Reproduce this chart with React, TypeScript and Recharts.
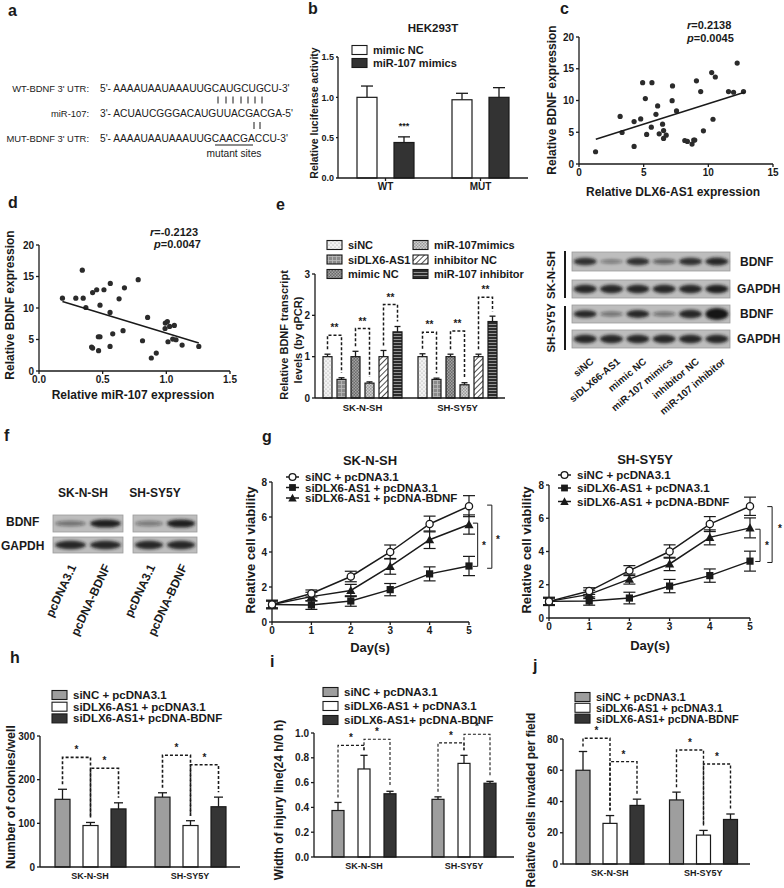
import React from 'react';
import { BarChart, Bar, XAxis, YAxis, ScatterChart, Scatter, LineChart, Line, ErrorBar, ReferenceLine } from 'recharts';

const FONT = 'Arial, "Liberation Sans", Helvetica, sans-serif';
const INK = '#1a1a1a';

// ---------- Panel a ----------
const aLabels = ["WT-BDNF 3' UTR:", 'miR-107:', "MUT-BDNF 3' UTR:"];
const aSeqs = ["5'- AAAAUAAUAAAUUGCAUGCUGCU-3'", "3'- ACUAUCGGGACAUGUUACGACGA-5'", "5'- AAAAUAAUAAAUUGCAACGACCU-3'"];

// ---------- Panel b ----------
const bCategories = ['WT', 'MUT'];
const bMimicNC = [1.0, 0.97];
const bMimicNCErr = [0.14, 0.08];
const bMimics = [0.44, 1.0];
const bMimicsErr = [0.07, 0.12];
const bMarks = ['***', ''];
const bTicks = [0, 0.5, 1.0, 1.5];

// ---------- Panel c ----------
const cX = [1.28, 3.18, 3.33, 4.26, 4.26, 4.77, 4.92, 5.13, 5.23, 5.64, 5.59, 5.95, 6.08, 6.2, 6.46, 6.54, 6.54, 6.74, 7.2, 7.23, 7.54, 8.18, 8.38, 8.74, 8.87, 8.95, 9.08, 9.41, 9.62, 10.26, 10.36, 10.54, 11.56, 11.95, 12.23, 12.72];
const cY = [1.93, 7.5, 4.96, 6.68, 2.77, 7.1, 12.8, 10.3, 4.65, 12.8, 5.8, 7.83, 9.14, 4.75, 6.27, 5.27, 4.02, 4.54, 9.97, 12.3, 8.36, 3.7, 3.55, 3.13, 3.76, 3.76, 13.1, 11.4, 5.22, 14.4, 7.05, 13.7, 11.4, 11.3, 15.9, 11.4];
const cFitX = [1.3, 12.8];
const cFitY = [3.9, 11.3];

// ---------- Panel d ----------
const dX = [0.184, 0.289, 0.34, 0.347, 0.368, 0.413, 0.421, 0.421, 0.453, 0.466, 0.479, 0.468, 0.479, 0.51, 0.558, 0.558, 0.56, 0.579, 0.629, 0.66, 0.671, 0.779, 0.813, 0.853, 0.882, 0.921, 0.99, 0.992, 1.008, 1.013, 1.026, 1.05, 1.063, 1.076, 1.124, 1.255];
const dY = [11.56, 11.56, 16.0, 11.56, 10.08, 3.8, 3.64, 12.45, 12.9, 5.44, 5.44, 3.22, 10.45, 12.9, 3.9, 9.29, 13.9, 5.9, 11.45, 6.4, 13.2, 14.5, 4.8, 8.5, 2.06, 2.85, 6.75, 7.6, 7.86, 4.64, 7.07, 5.07, 7.23, 4.96, 4.12, 3.9];
const dFitX = [0.184, 1.255];
const dFitY = [11.03, 4.43];

// ---------- Panel e ----------
const eCategories = ['SK-N-SH', 'SH-SY5Y'];
const eNames = ['siNC', 'siDLX6-AS1', 'mimic NC', 'miR-107mimics', 'inhibitor NC', 'miR-107 inhibitor'];
const eSiNC = [1.0, 1.0];
const eSiNCErr = [0.06, 0.07];
const eSiDLX = [0.45, 0.45];
const eSiDLXErr = [0.04, 0.03];
const eMimicNC = [1.0, 1.0];
const eMimicNCErr = [0.13, 0.06];
const eMimics = [0.36, 0.32];
const eMimicsErr = [0.03, 0.05];
const eInhNC = [1.0, 1.0];
const eInhNCErr = [0.15, 0.06];
const eInh = [1.6, 1.85];
const eInhErr = [0.13, 0.13];
const eBracket1 = [1.52, 1.59];
const eBracket2 = [1.68, 1.62];
const eBracket3 = [2.26, 2.44];
const eTicks = [0, 1, 2, 3];
const eLanes = ['siNC', 'siDLX66-AS1', 'mimic NC', 'miR-107 mimics', 'inhibitor NC', 'miR-107 inhibitor'];
const eBdnfSK = [0.85, 0.4, 0.85, 0.55, 0.85, 0.9];
const eBdnfSKThick = [1, 0.6, 1, 0.7, 1, 1.05];
const eGapdhSK = [0.9, 0.9, 0.9, 0.9, 0.9, 0.95];
const eBdnfSH = [0.9, 0.45, 0.9, 0.45, 0.9, 1.0];
const eBdnfSHThick = [1.05, 0.7, 1.1, 0.7, 1.2, 1.7];
const eGapdhSH = [0.9, 0.9, 0.9, 0.9, 0.9, 0.9];

// ---------- Panel f ----------
const fCells = ['SK-N-SH', 'SH-SY5Y'];
const fLanes = ['pcDNA3.1', 'pcDNA-BDNF'];
const fBdnfSK = [0.45, 0.95];
const fBdnfSH = [0.4, 0.95];
const fGapdh = [0.9, 0.9];

// ---------- Panel g ----------
const gDays = [0, 1, 2, 3, 4, 5];
const gSeries = ['siNC + pcDNA3.1', 'siDLX6-AS1 + pcDNA3.1', 'siDLX6-AS1 + pcDNA-BDNF'];
const gSKnc = [1.0, 1.63, 2.6, 4.0, 5.6, 6.62];
const gSKncErr = [0.2, 0.2, 0.3, 0.4, 0.45, 0.6];
const gSKsi = [1.0, 0.97, 1.2, 1.85, 2.75, 3.2];
const gSKsiErr = [0.25, 0.25, 0.3, 0.35, 0.4, 0.55];
const gSKbd = [1.0, 1.45, 1.8, 3.18, 4.7, 5.57];
const gSKbdErr = [0.2, 0.25, 0.35, 0.45, 0.5, 0.55];
const gSHnc = [1.0, 1.62, 2.85, 4.0, 5.65, 6.72];
const gSHncErr = [0.2, 0.2, 0.3, 0.4, 0.45, 0.55];
const gSHsi = [1.0, 1.02, 1.2, 1.92, 2.55, 3.42];
const gSHsiErr = [0.25, 0.25, 0.35, 0.4, 0.4, 0.6];
const gSHbd = [1.0, 1.42, 2.34, 3.25, 4.85, 5.42];
const gSHbdErr = [0.2, 0.25, 0.3, 0.4, 0.45, 0.6];
const gTicksY = [0, 2, 4, 6, 8];

// ---------- Panels h, i, j ----------
const hijCategories = ['SK-N-SH', 'SH-SY5Y'];
const hijSeries = ['siNC + pcDNA3.1', 'siDLX6-AS1 + pcDNA3.1', 'siDLX6-AS1+ pcDNA-BDNF'];
const hNC = [155, 160];
const hNCErr = [23, 10];
const hSi = [95, 95];
const hSiErr = [7, 11];
const hBd = [133, 138];
const hBdErr = [14, 22];
const hBr1 = [251, 256];
const hBr2 = [226, 234];
const hTicks = [0, 100, 200, 300];

const iNC = [0.375, 0.465];
const iNCErr = [0.065, 0.02];
const iSi = [0.71, 0.755];
const iSiErr = [0.11, 0.065];
const iBd = [0.51, 0.595];
const iBdErr = [0.02, 0.015];
const iBr1 = [0.9, 0.92];
const iBr2 = [0.95, 0.99];
const iTicks = [0, 0.2, 0.4, 0.6, 0.8, 1.0];

const jNC = [60, 41];
const jNCErr = [12, 5];
const jSi = [26, 18.5];
const jSiErr = [5, 3];
const jBd = [37.5, 28.5];
const jBdErr = [4, 3.5];
const jBr1 = [80.5, 73];
const jBr2 = [65.5, 64];
const jTicks = [0, 20, 40, 60, 80];

// ---------- built tables ----------
const bData = bCategories.map((name, i) => ({ name, nc: bMimicNC[i], ncE: bMimicNCErr[i], mi: bMimics[i], miE: bMimicsErr[i], mark: bMarks[i] }));
const cPts = cX.map((x, i) => ({ x, y: cY[i] }));
const cLine = cFitX.map((x, i) => ({ x, y: cFitY[i] }));
const dPts = dX.map((x, i) => ({ x, y: dY[i] }));
const dLine = dFitX.map((x, i) => ({ x, y: dFitY[i] }));
const eData = eCategories.map((name, i) => ({
  name,
  s1: eSiNC[i], s1E: eSiNCErr[i], s2: eSiDLX[i], s2E: eSiDLXErr[i],
  s3: eMimicNC[i], s3E: eMimicNCErr[i], s4: eMimics[i], s4E: eMimicsErr[i],
  s5: eInhNC[i], s5E: eInhNCErr[i], s6: eInh[i], s6E: eInhErr[i],
  br1: eBracket1[i], br2: eBracket2[i], br3: eBracket3[i],
}));
const gSK = gDays.map((day, i) => ({ day, nc: gSKnc[i], ncE: gSKncErr[i], si: gSKsi[i], siE: gSKsiErr[i], bd: gSKbd[i], bdE: gSKbdErr[i] }));
const gSH = gDays.map((day, i) => ({ day, nc: gSHnc[i], ncE: gSHncErr[i], si: gSHsi[i], siE: gSHsiErr[i], bd: gSHbd[i], bdE: gSHbdErr[i] }));
const mk3 = (a: number[], ae: number[], b: number[], be: number[], c: number[], ce: number[], r1: number[], r2: number[]) =>
  hijCategories.map((name, i) => ({ name, a: a[i], aE: ae[i], b: b[i], bE: be[i], c: c[i], cE: ce[i], br1: r1[i], br2: r2[i] }));
const hData = mk3(hNC, hNCErr, hSi, hSiErr, hBd, hBdErr, hBr1, hBr2);
const iData = mk3(iNC, iNCErr, iSi, iSiErr, iBd, iBdErr, iBr1, iBr2);
const jData = mk3(jNC, jNCErr, jSi, jSiErr, jBd, jBdErr, jBr1, jBr2);

// ---------- helpers ----------
const tickStyle = { fontSize: 10, fontWeight: 700, fill: INK, fontFamily: FONT };
const axisLine = { stroke: INK, strokeWidth: 1.3 };

type ShapeSpec = { v: string; e: string; fill: string; pv?: string; pe?: string; br?: string; star?: string; pitch?: number; mark?: string; sw?: number; dash?: string };

function barShape(s: ShapeSpec) {
  return (props: any) => {
    const { x, y, width, height, payload } = props;
    const v = payload[s.v];
    if (!v || !height) return <g />;
    const k = height / v;
    const base = y + height;
    const py = (val: number) => base - val * k;
    const cx = x + width / 2;
    const top = py(v + payload[s.e]);
    const cap = Math.max(3, width * 0.3);
    const parts: any[] = [
      <line key="e" x1={cx} y1={y} x2={cx} y2={top} stroke={INK} strokeWidth={1.3} />,
      <line key="c" x1={cx - cap} y1={top} x2={cx + cap} y2={top} stroke={INK} strokeWidth={1.3} />,
      <rect key="r" x={x} y={y} width={width} height={height} fill={s.fill} stroke={INK} strokeWidth={1.2} />,
    ];
    if (s.br && s.pv && s.pe && s.pitch) {
      const lvl = py(payload[s.br]);
      const px = cx + s.pitch;
      const pTop = py(payload[s.pv] + payload[s.pe]) - 5;
      parts.push(
        <path key="b" d={`M${cx},${top - 5}V${lvl}H${px}V${pTop}`} fill="none" stroke={INK} strokeWidth={s.sw || 1.4} strokeDasharray={s.dash || '3 2'} />
      );
      parts.push(
        <text key="s" x={(cx + px) / 2} y={lvl - 4} textAnchor="middle" fontSize={10} fontWeight={700} fontFamily={FONT} fill={INK}>{s.star}</text>
      );
    }
    if (s.mark && payload[s.mark]) {
      parts.push(
        <text key="m" x={cx} y={top - 8} textAnchor="middle" fontSize={9} fontWeight={700} fontFamily={FONT} fill={INK}>{payload[s.mark]}</text>
      );
    }
    return <g>{parts}</g>;
  };
}

const scatterDot = (p: any) => <circle cx={p.cx} cy={p.cy} r={2.6} fill="#2b2b2b" />;
const noDot = () => <g />;
const circleDot = (p: any) => <circle key={`c${p.index}`} cx={p.cx} cy={p.cy} r={3.6} fill="#fff" stroke={INK} strokeWidth={1.3} />;
const squareDot = (p: any) => <rect key={`s${p.index}`} x={p.cx - 3.6} y={p.cy - 3.6} width={7.2} height={7.2} fill={INK} />;
const triDot = (p: any) => <path key={`t${p.index}`} d={`M${p.cx},${p.cy - 4.6}L${p.cx + 4.6},${p.cy + 3.6}L${p.cx - 4.6},${p.cy + 3.6}Z`} fill={INK} />;

function Txt({ x, y, children, size = 11, weight = 700, anchor = 'start', rotate = 0, italic = false }: any) {
  return (
    <text x={0} y={0} transform={`translate(${x},${y}) rotate(${rotate})`} fontSize={size} fontWeight={weight}
      textAnchor={anchor} dominantBaseline="central" fontFamily={FONT} fill={INK} fontStyle={italic ? 'italic' : 'normal'}>
      {children}
    </text>
  );
}

function Blot({ x, y, w, h, bands, thick }: any) {
  const lw = w / bands.length;
  return (
    <g>
      <rect x={x} y={y} width={w} height={h} fill="#bdbdbd" stroke="#9c9c9c" strokeWidth={0.8} />
      <g filter="url(#blotBlur)">
        {bands.map((b: number, i: number) => (
          <ellipse key={i} cx={x + lw * (i + 0.5)} cy={y + h / 2} rx={lw * 0.44} ry={h * 0.2 * (thick ? thick[i] : 1.15)} fill="#141414" opacity={b} />
        ))}
      </g>
    </g>
  );
}

function SwatchLegend({ x, y0, dy, names, fills, size = 11 }: any) {
  return (
    <g>
      {names.map((n: string, i: number) => (
        <g key={n}>
          <rect x={x} y={y0 + i * dy - 4.5} width={15} height={9} fill={fills[i]} stroke={INK} strokeWidth={1.1} />
          <Txt x={x + 21} y={y0 + i * dy} size={size}>{n}</Txt>
        </g>
      ))}
    </g>
  );
}

function LineLegend({ x, ys, names }: any) {
  const marks = [
    (cx: number, cy: number) => <circle cx={cx} cy={cy} r={3.4} fill="#fff" stroke={INK} strokeWidth={1.3} />,
    (cx: number, cy: number) => <rect x={cx - 3.4} y={cy - 3.4} width={6.8} height={6.8} fill={INK} />,
    (cx: number, cy: number) => <path d={`M${cx},${cy - 4.2}L${cx + 4.2},${cy + 3.4}L${cx - 4.2},${cy + 3.4}Z`} fill={INK} />,
  ];
  return (
    <g>
      {names.map((n: string, i: number) => (
        <g key={n}>
          <line x1={x} y1={ys[i]} x2={x + 13} y2={ys[i]} stroke={INK} strokeWidth={1.5} />
          {marks[i](x + 6.5, ys[i])}
          <Txt x={x + 19} y={ys[i]} size={11.5}>{n}</Txt>
        </g>
      ))}
    </g>
  );
}

function GChart({ data, left, top, w, h, brackets }: any) {
  return (
    <div style={{ position: 'absolute', left, top }}>
      <LineChart width={w} height={h} data={data} margin={{ top: 6, right: 30, bottom: 0, left: 0 }}>
        <XAxis type="number" dataKey="day" domain={[0, 5]} ticks={gDays} height={16} tick={tickStyle} axisLine={axisLine} tickLine={axisLine} tickSize={3} />
        <YAxis type="number" domain={[0, 8]} ticks={gTicksY} width={14} tick={tickStyle} axisLine={axisLine} tickLine={axisLine} tickSize={3} />
        <Line dataKey="si" stroke={INK} strokeWidth={1.5} dot={squareDot} isAnimationActive={false}>
          <ErrorBar dataKey="siE" width={6} stroke={INK} strokeWidth={1.2} />
        </Line>
        <Line dataKey="bd" stroke={INK} strokeWidth={1.5} dot={triDot} isAnimationActive={false}>
          <ErrorBar dataKey="bdE" width={6} stroke={INK} strokeWidth={1.2} />
        </Line>
        <Line dataKey="nc" stroke={INK} strokeWidth={1.5} dot={circleDot} isAnimationActive={false}>
          <ErrorBar dataKey="ncE" width={6} stroke={INK} strokeWidth={1.2} />
        </Line>
        {brackets.map((b: any, i: number) => (
          <React.Fragment key={i}>
            <ReferenceLine segment={[{ x: b.x, y: b.hi }, { x: b.x, y: b.lo }]} stroke={INK} strokeWidth={1} ifOverflow="visible" />
            <ReferenceLine segment={[{ x: b.x - 0.12, y: b.hi }, { x: b.x, y: b.hi }]} stroke={INK} strokeWidth={1} ifOverflow="visible" />
            <ReferenceLine segment={[{ x: b.x - 0.12, y: b.lo }, { x: b.x, y: b.lo }]} stroke={INK} strokeWidth={1} ifOverflow="visible" />
          </React.Fragment>
        ))}
      </LineChart>
    </div>
  );
}

function HijChart({ data, left, top, w, h, yw, domain, ticks, fmt, barSize, gap, sw, dash }: any) {
  const pitch = barSize + gap;
  const extra = 14;
  return (
    <div style={{ position: 'absolute', left, top: top - extra }}>
      <BarChart width={w} height={h + extra} data={data} margin={{ top: 6 + extra, right: 0, bottom: 0, left: 0 }} barGap={gap}>
        <XAxis dataKey="name" height={16} tick={{ ...tickStyle, fontSize: 9 }} axisLine={axisLine} tickLine={false} tickSize={4} />
        <YAxis type="number" domain={domain} ticks={ticks} tickFormatter={fmt} width={yw} tick={tickStyle} axisLine={axisLine} tickLine={axisLine} tickSize={3} />
        <Bar dataKey="a" barSize={barSize} isAnimationActive={false}
          shape={barShape({ v: 'a', e: 'aE', fill: '#9e9e9e', pv: 'b', pe: 'bE', br: 'br1', star: '*', pitch, sw, dash })} />
        <Bar dataKey="b" barSize={barSize} isAnimationActive={false}
          shape={barShape({ v: 'b', e: 'bE', fill: '#ffffff', pv: 'c', pe: 'cE', br: 'br2', star: '*', pitch, sw, dash })} />
        <Bar dataKey="c" barSize={barSize} isAnimationActive={false}
          shape={barShape({ v: 'c', e: 'cE', fill: '#353535' })} />
      </BarChart>
    </div>
  );
}

const hijFills = ['#9e9e9e', '#ffffff', '#353535'];
const eFills = ['url(#pSiNC)', 'url(#pSiDLX)', 'url(#pMimicNC)', 'url(#pMimics)', 'url(#pInhNC)', 'url(#pInh)'];

export default function App() {
  const ePitch = 14;
  const eLaneX = (i: number) => 572 + (158 / 6) * (i + 0.5);
  return (
    <div style={{ position: 'absolute', left: 0, top: 0, width: 784, height: 888, background: '#fff', overflow: 'hidden', fontFamily: FONT }}>
      {/* b */}
      <div style={{ position: 'absolute', left: 316, top: 50 }}>
        <BarChart width={212} height={146} data={bData} margin={{ top: 7, right: 0, bottom: 0, left: 0 }} barGap={17}>
          <XAxis dataKey="name" height={18} tick={tickStyle} axisLine={axisLine} tickLine={axisLine} tickSize={3} />
          <YAxis type="number" domain={[0, 1.5]} ticks={bTicks} tickFormatter={(v: number) => v.toFixed(1)} width={22} tick={{ ...tickStyle, fontSize: 9 }} axisLine={axisLine} tickLine={axisLine} tickSize={2} />
          <Bar dataKey="nc" barSize={20} isAnimationActive={false} shape={barShape({ v: 'nc', e: 'ncE', fill: '#fff' })} />
          <Bar dataKey="mi" barSize={20} isAnimationActive={false} shape={barShape({ v: 'mi', e: 'miE', fill: '#333', mark: 'mark' })} />
        </BarChart>
      </div>

      {/* c */}
      <div style={{ position: 'absolute', left: 561, top: 31 }}>
        <ScatterChart width={220} height={149} margin={{ top: 6, right: 8, bottom: 0, left: 0 }}>
          <XAxis type="number" dataKey="x" domain={[0, 15]} ticks={[0, 5, 10, 15]} height={16} tick={tickStyle} axisLine={axisLine} tickLine={axisLine} tickSize={3} />
          <YAxis type="number" dataKey="y" domain={[0, 20]} ticks={[0, 5, 10, 15, 20]} width={18} tick={tickStyle} axisLine={axisLine} tickLine={axisLine} tickSize={3} />
          <Scatter data={cPts} shape={scatterDot} isAnimationActive={false} />
          <Scatter data={cLine} line={{ stroke: INK, strokeWidth: 1.5 }} shape={noDot} isAnimationActive={false} />
        </ScatterChart>
      </div>

      {/* d */}
      <div style={{ position: 'absolute', left: 21, top: 239 }}>
        <ScatterChart width={217} height={148} margin={{ top: 6, right: 8, bottom: 0, left: 0 }}>
          <XAxis type="number" dataKey="x" domain={[0, 1.5]} ticks={[0, 0.5, 1, 1.5]} tickFormatter={(v: number) => v.toFixed(1)} height={16} tick={tickStyle} axisLine={axisLine} tickLine={axisLine} tickSize={3} />
          <YAxis type="number" dataKey="y" domain={[0, 20]} ticks={[0, 5, 10, 15, 20]} width={18} tick={tickStyle} axisLine={axisLine} tickLine={axisLine} tickSize={3} />
          <Scatter data={dPts} shape={scatterDot} isAnimationActive={false} />
          <Scatter data={dLine} line={{ stroke: INK, strokeWidth: 1.5 }} shape={noDot} isAnimationActive={false} />
        </ScatterChart>
      </div>

      {/* e */}
      <div style={{ position: 'absolute', left: 301, top: 268 }}>
        <BarChart width={204} height={148} data={eData} margin={{ top: 6, right: 0, bottom: 0, left: 0 }} barGap={5}>
          <XAxis dataKey="name" height={18} tick={{ ...tickStyle, fontSize: 9.5 }} axisLine={axisLine} tickLine={false} tickSize={4} />
          <YAxis type="number" domain={[0, 3]} ticks={eTicks} width={14} tick={tickStyle} axisLine={axisLine} tickLine={axisLine} tickSize={3} />
          <Bar dataKey="s1" barSize={9} isAnimationActive={false} shape={barShape({ v: 's1', e: 's1E', fill: eFills[0], pv: 's2', pe: 's2E', br: 'br1', star: '**', pitch: ePitch, sw: 1.5 })} />
          <Bar dataKey="s2" barSize={9} isAnimationActive={false} shape={barShape({ v: 's2', e: 's2E', fill: eFills[1] })} />
          <Bar dataKey="s3" barSize={9} isAnimationActive={false} shape={barShape({ v: 's3', e: 's3E', fill: eFills[2], pv: 's4', pe: 's4E', br: 'br2', star: '**', pitch: ePitch, sw: 1.5 })} />
          <Bar dataKey="s4" barSize={9} isAnimationActive={false} shape={barShape({ v: 's4', e: 's4E', fill: eFills[3] })} />
          <Bar dataKey="s5" barSize={9} isAnimationActive={false} shape={barShape({ v: 's5', e: 's5E', fill: eFills[4], pv: 's6', pe: 's6E', br: 'br3', star: '**', pitch: ePitch, sw: 1.5 })} />
          <Bar dataKey="s6" barSize={9} isAnimationActive={false} shape={barShape({ v: 's6', e: 's6E', fill: eFills[5] })} />
        </BarChart>
      </div>

      {/* g */}
      <GChart data={gSK} left={258} top={476} w={241} h={162}
        brackets={[{ x: 5.22, hi: 5.65, lo: 3.18 }, { x: 5.58, hi: 6.68, lo: 3.07 }]} />
      <GChart data={gSH} left={535} top={479} w={245} h={155}
        brackets={[{ x: 5.25, hi: 5.34, lo: 3.4 }, { x: 5.55, hi: 6.7, lo: 3.34 }]} />

      {/* h i j */}
      <HijChart data={hData} left={12} top={730} w={228} h={153} yw={28} domain={[0, 300]} ticks={hTicks} barSize={15} gap={13} sw={1.6} dash="3 2" />
      <HijChart data={iData} left={292} top={727} w={222} h={146} yw={22} domain={[0, 1]} ticks={iTicks} fmt={(v: number) => v.toFixed(1)} barSize={12} gap={14} sw={1.1} dash="3 2" />
      <HijChart data={jData} left={543} top={733} w={207} h={147} yw={20} domain={[0, 80]} ticks={jTicks} barSize={14} gap={13} sw={1.4} dash="3 2" />

      {/* overlay */}
      <svg width={784} height={888} style={{ position: 'absolute', left: 0, top: 0, pointerEvents: 'none' }}>
        <defs>
          <filter id="blotBlur" x="-20%" y="-60%" width="140%" height="220%"><feGaussianBlur stdDeviation="1.6" /></filter>
          <pattern id="pSiNC" width="4" height="4" patternUnits="userSpaceOnUse">
            <rect width="4" height="4" fill="#f2f2f2" />
            <circle cx="1" cy="1" r="0.6" fill="#9a9a9a" />
            <circle cx="3" cy="3" r="0.6" fill="#9a9a9a" />
          </pattern>
          <pattern id="pSiDLX" width="4" height="4" patternUnits="userSpaceOnUse">
            <rect width="4" height="4" fill="#8a8a8a" />
            <path d="M0,0.5H4M0.5,0V4" stroke="#bdbdbd" strokeWidth="0.8" />
          </pattern>
          <pattern id="pMimicNC" width="3" height="3" patternUnits="userSpaceOnUse">
            <rect width="3" height="3" fill="#6a6a6a" />
            <rect width="1.5" height="1.5" fill="#a3a3a3" />
            <rect x="1.5" y="1.5" width="1.5" height="1.5" fill="#a3a3a3" />
          </pattern>
          <pattern id="pMimics" width="3" height="3" patternUnits="userSpaceOnUse">
            <rect width="3" height="3" fill="#d0d0d0" />
            <rect width="1.5" height="1.5" fill="#9a9a9a" />
            <rect x="1.5" y="1.5" width="1.5" height="1.5" fill="#9a9a9a" />
          </pattern>
          <pattern id="pInhNC" width="4" height="4" patternUnits="userSpaceOnUse" patternTransform="rotate(45)">
            <rect width="4" height="4" fill="#fff" />
            <line x1="0" y1="0" x2="0" y2="4" stroke="#222" strokeWidth="1.6" />
          </pattern>
          <pattern id="pInh" width="4" height="3" patternUnits="userSpaceOnUse">
            <rect width="4" height="3" fill="#2c2c2c" />
            <rect y="2" width="4" height="0.9" fill="#a0a0a0" />
          </pattern>
        </defs>

        {/* panel letters */}
        <Txt x={8} y={10} size={16}>a</Txt>
        <Txt x={308} y={8} size={16}>b</Txt>
        <Txt x={560} y={8} size={16}>c</Txt>
        <Txt x={8} y={202} size={16}>d</Txt>
        <Txt x={276} y={204} size={16}>e</Txt>
        <Txt x={4} y={435} size={16}>f</Txt>
        <Txt x={262} y={436} size={16}>g</Txt>
        <Txt x={10} y={657} size={16}>h</Txt>
        <Txt x={270} y={661} size={16}>i</Txt>
        <Txt x={533} y={665} size={16}>j</Txt>

        {/* a */}
        {aLabels.map((l, i) => (
          <Txt key={l} x={89} y={88 + i * 25} size={9.4} weight={400} anchor="end">{l}</Txt>
        ))}
        {aSeqs.map((s, i) => (
          <Txt key={s} x={100} y={88 + i * 25} size={10.2} weight={400}>{s}</Txt>
        ))}
        {[218, 226, 233, 241, 248, 255, 262].map((x) => (
          <line key={x} x1={x} y1={96.5} x2={x} y2={103.5} stroke={INK} strokeWidth={1} />
        ))}
        {[254, 260].map((x) => (
          <line key={x} x1={x} y1={122} x2={x} y2={129} stroke={INK} strokeWidth={1} />
        ))}
        <line x1={215} y1={145} x2={253} y2={145} stroke={INK} strokeWidth={1.2} />
        <Txt x={234} y={153} size={10.2} weight={400} anchor="middle">mutant sites</Txt>

        {/* b */}
        <Txt x={433} y={28} size={11.5} anchor="middle">HEK293T</Txt>
        <SwatchLegend x={352} y0={50} dy={13} names={['mimic NC', 'miR-107 mimics']} fills={['#fff', '#333']} size={11} />
        <Txt x={314} y={113} size={10.5} anchor="middle" rotate={-90}>Relative luciferase activity</Txt>

        {/* c */}
        <text x={687} y={25} fontSize={11} fontWeight={700} fontFamily={FONT} fill={INK} dominantBaseline="central"><tspan fontStyle="italic">r</tspan>=0.2138</text>
        <text x={687} y={38} fontSize={11} fontWeight={700} fontFamily={FONT} fill={INK} dominantBaseline="central"><tspan fontStyle="italic">p</tspan>=0.0045</text>
        <Txt x={673} y={192} size={12} anchor="middle">Relative DLX6-AS1 expression</Txt>
        <Txt x={552} y={100} size={12} anchor="middle" rotate={-90}>Relative BDNF expression</Txt>

        {/* d */}
        <text x={150} y={232} fontSize={11} fontWeight={700} fontFamily={FONT} fill={INK} dominantBaseline="central"><tspan fontStyle="italic">r</tspan>=-0.2123</text>
        <text x={154} y={244} fontSize={11} fontWeight={700} fontFamily={FONT} fill={INK} dominantBaseline="central"><tspan fontStyle="italic">p</tspan>=0.0047</text>
        <Txt x={133} y={395} size={12} anchor="middle">Relative miR-107 expression</Txt>
        <Txt x={10} y={305} size={12} anchor="middle" rotate={-90}>Relative BDNF expression</Txt>

        {/* e chart labels */}
        <SwatchLegend x={327} y0={245} dy={14.5} names={eNames.slice(0, 3)} fills={eFills.slice(0, 3)} size={11} />
        <SwatchLegend x={413} y0={245} dy={14.5} names={eNames.slice(3)} fills={eFills.slice(3)} size={11} />
        <Txt x={284} y={335} size={11} anchor="middle" rotate={-90}>Relative BDNF transcript</Txt>
        <Txt x={298} y={340} size={11} anchor="middle" rotate={-90}>levels (by qPCR)</Txt>

        {/* e blot */}
        <Blot x={572} y={252} w={158} h={19} bands={eBdnfSK} thick={eBdnfSKThick} />
        <Blot x={572} y={280} w={158} h={18} bands={eGapdhSK} />
        <Blot x={572} y={305} w={158} h={18} bands={eBdnfSH} thick={eBdnfSHThick} />
        <Blot x={572} y={330} w={158} h={18} bands={eGapdhSH} />
        <Txt x={740} y={262} size={12}>BDNF</Txt>
        <Txt x={737} y={289} size={12}>GAPDH</Txt>
        <Txt x={740} y={314} size={12}>BDNF</Txt>
        <Txt x={737} y={339} size={12}>GAPDH</Txt>
        <line x1={565} y1={251} x2={565} y2={298} stroke={INK} strokeWidth={2} />
        <line x1={565} y1={306} x2={565} y2={350} stroke={INK} strokeWidth={2} />
        <Txt x={551} y={275} size={11.5} anchor="middle" rotate={-90}>SK-N-SH</Txt>
        <Txt x={551} y={328} size={11.5} anchor="middle" rotate={-90}>SH-SY5Y</Txt>
        {eLanes.map((l, i) => (
          <Txt key={l} x={eLaneX(i) + 7} y={360} size={10} anchor="end" rotate={-40}>{l}</Txt>
        ))}

        {/* f */}
        <Txt x={83} y={493} size={12} anchor="middle">{fCells[0]}</Txt>
        <Txt x={155} y={493} size={12} anchor="middle">{fCells[1]}</Txt>
        <Txt x={6} y={522} size={12}>BDNF</Txt>
        <Txt x={1} y={546} size={12}>GAPDH</Txt>
        <Blot x={53} y={515} w={70} h={17} bands={fBdnfSK} thick={[0.8, 1.2]} />
        <Blot x={53} y={537} w={70} h={16} bands={fGapdh} thick={[1.3, 1.3]} />
        <Blot x={133} y={515} w={64} h={17} bands={fBdnfSH} thick={[0.8, 1.2]} />
        <Blot x={133} y={537} w={64} h={16} bands={fGapdh} thick={[1.3, 1.3]} />
        {[70, 104, 149, 181].map((x, i) => (
          <Txt key={x} x={x + 3} y={565} size={12} anchor="end" rotate={-65}>{fLanes[i % 2]}</Txt>
        ))}

        {/* g */}
        <Txt x={370} y={460} size={13} anchor="middle">SK-N-SH</Txt>
        <Txt x={645} y={459} size={13} anchor="middle">SH-SY5Y</Txt>
        <LineLegend x={286} ys={[477, 487.5, 498]} names={gSeries} />
        <LineLegend x={558} ys={[475, 488, 501.5]} names={gSeries} />
        <Txt x={250} y={550} size={13} anchor="middle" rotate={-90}>Relative cell viability</Txt>
        <Txt x={526} y={550} size={13} anchor="middle" rotate={-90}>Relative cell viability</Txt>
        <Txt x={370} y={647} size={13} anchor="middle">Day(s)</Txt>
        <Txt x={650} y={645} size={13} anchor="middle">Day(s)</Txt>
        <Txt x={484} y={545} size={10} anchor="middle">*</Txt>
        <Txt x={498} y={539} size={10} anchor="middle">*</Txt>
        <Txt x={767} y={545} size={10} anchor="middle">*</Txt>
        <Txt x={780} y={528} size={10} anchor="middle">*</Txt>

        {/* h i j */}
        <SwatchLegend x={52} y0={695} dy={11.7} names={hijSeries} fills={hijFills} size={11.5} />
        <Txt x={11} y={797} size={12.5} anchor="middle" rotate={-90}>Number of colonies/well</Txt>
        <SwatchLegend x={323} y0={692} dy={14} names={hijSeries} fills={hijFills} size={11.5} />
        <Txt x={279} y={800} size={12} anchor="middle" rotate={-90}>Width of injury line(24 h/0 h)</Txt>
        <SwatchLegend x={575} y0={697} dy={10.8} names={hijSeries} fills={hijFills} size={11} />
        <Txt x={531} y={800} size={12} anchor="middle" rotate={-90}>Relative cells invaded per field</Txt>
      </svg>
    </div>
  );
}
